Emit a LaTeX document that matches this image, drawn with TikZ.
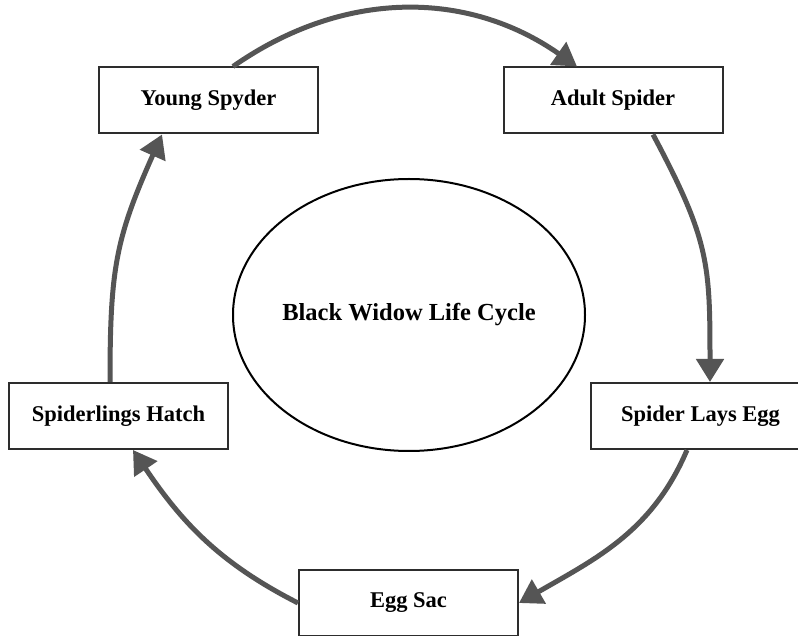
\documentclass[tikz,border=0pt]{standalone}
\usepackage{fontspec}
\setmainfont{Liberation Serif}
\usetikzlibrary{arrows.meta}
\definecolor{flowgray}{RGB}{85,85,85}
\definecolor{boxline}{RGB}{45,45,45}
\begin{document}
\begin{tikzpicture}[x=1pt,y=1pt,
  stagebox/.style={draw=boxline, line width=2pt, fill=white, minimum width=219pt,
    minimum height=66pt, inner sep=0pt,
    font=\fontsize{22.5}{27}\selectfont\bfseries},
  flow/.style={draw=flowgray, line width=5pt,
    -{Triangle[length=23pt,width=27pt]}}]
\useasboundingbox (0,0) rectangle (798,635);
\clip (0,0) rectangle (798,635);
\fill[white] (0,0) rectangle (798,635);

% central title
\draw[black, line width=2pt] (409,320) ellipse [x radius=176, y radius=136];
\node[font=\fontsize{24.5}{29}\selectfont\bfseries] (title) at (409,320) {Black Widow Life Cycle};

% life-cycle stages
\node[stagebox] (young) at (208.5,534.5) {Young Spyder};
\node[stagebox] (adult) at (613,534.5) {Adult Spider};
\node[stagebox] (lays)  at (700.5,219) {Spider Lays Egg};
\node[stagebox] (sac)   at (408.5,32) {Egg Sac};
\node[stagebox] (hatch) at (118.5,219) {Spiderlings Hatch};

% cycle arrows
\draw[flow] ([xshift=24.5pt]young.north) to[out=35,in=145] ([xshift=-36pt]adult.north);
\draw[flow] ([xshift=40pt]adult.south) to[out=-62,in=90,looseness=1.2] ([xshift=9.5pt]lays.north);
\draw[flow] ([xshift=-13.5pt]lays.south) to[out=-113,in=30] (sac.east);
\draw[flow] (sac.west) to[out=153,in=-56] ([xshift=14.5pt]hatch.south);
\draw[flow] ([xshift=-8.5pt]hatch.north) to[out=90,in=-114,looseness=1.15] ([xshift=-46.5pt]young.south);
\end{tikzpicture}
\end{document}
